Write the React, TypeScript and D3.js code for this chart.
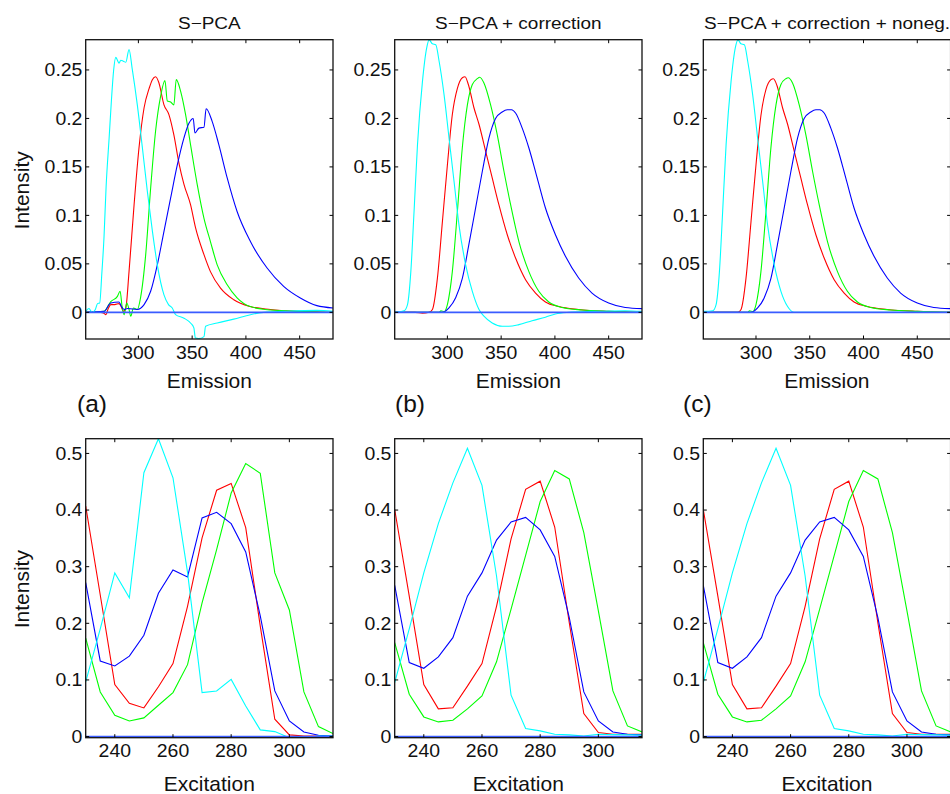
import React from 'react';
import * as d3 from 'd3';

// ---------- data ----------
const titles = ['S\u2212PCA', 'S\u2212PCA + correction', 'S\u2212PCA + correction + noneg.'];
const panelLabels = ['(a)', '(b)', '(c)'];
const seriesColors = ['#ff0000', '#00ff00', '#0000ff', '#00ffff']; // red, green, blue, cyan

const emissionXTicks = [300, 350, 400, 450];
const emissionYTicks = [0, 0.05, 0.1, 0.15, 0.2, 0.25];
const excitationXTicks = [240, 260, 280, 300];
const excitationYTicks = [0, 0.1, 0.2, 0.3, 0.4, 0.5];

// Emission spectra, panel (a): [wavelength, intensity]
const emARed: [number, number][] = [[251,0],[265,0],[268,-0.001],[269.7,-0.0024],[272,0.004],[274.3,0.008],[278,0.008],[282,0.009],[284,0.006],[286,0.001],[288.3,0.0045],[291.3,0.042],[296,0.111],[300.6,0.17],[305.3,0.211],[310,0.231],[313,0.24],[316,0.243],[319,0.237],[323.8,0.214],[328.4,0.204],[333,0.183],[337.7,0.154],[342.4,0.132],[348.5,0.111],[353.2,0.087],[361,0.0595],[367,0.042],[376.4,0.025],[388.7,0.013],[404,0.006],[422.8,0.003],[450.6,0.001],[481,0]];
const emAGreen: [number, number][] = [[251,0],[268,0.001],[274.3,0.011],[280.5,0.0165],[283,0.0217],[285,0.0045],[286.7,-0.0024],[289.2,0.0096],[291.3,0.003],[292.9,-0.004],[295.4,0.0045],[299,0.003],[302,0.015],[306.8,0.0595],[311.4,0.128],[316,0.187],[320.7,0.223],[324.7,0.239],[326.9,0.218],[330,0.217],[333,0.214],[335.2,0.24],[339.3,0.228],[343.9,0.204],[348.5,0.173],[354.7,0.132],[361,0.097],[367,0.073],[373.3,0.049],[382.6,0.0285],[391.8,0.015],[404,0.006],[422.8,0.0024],[450.6,0.001],[481,0]];
const emABlue: [number, number][] = [[251,0],[268,0.001],[274.3,0.0096],[282,0.0107],[284.2,0.006],[286.7,0.003],[290,0.004],[299,0.003],[305.3,0.008],[311.4,0.0217],[317.6,0.049],[323.8,0.0836],[330,0.118],[336.2,0.152],[342.4,0.18],[347,0.195],[351,0.2],[352.6,0.185],[356.3,0.19],[361,0.191],[363,0.21],[368.6,0.197],[374.8,0.173],[382.6,0.1386],[391.8,0.104],[404.2,0.073],[419.7,0.0457],[435.1,0.0268],[450.6,0.0148],[466,0.0069],[481,0.0045]];
const emACyan: [number, number][] = [[251,0.001],[254,0.004],[257,0],[260,0.003],[262,0.009],[264,0.0096],[266,0.04],[268,0.077],[270,0.13],[272.8,0.18],[275,0.22],[277,0.25],[279,0.263],[280.5,0.26],[282,0.257],[283.6,0.26],[286,0.259],[288.3,0.258],[291.3,0.271],[294.4,0.25],[299,0.214],[303.7,0.17],[308.3,0.125],[313,0.084],[317.6,0.049],[323.8,0.018],[328,0.008],[331.5,0.0045],[334.6,-0.0024],[342.4,-0.006],[348.5,-0.011],[351.6,-0.016],[353,-0.0265],[356,-0.027],[361,-0.025],[362.5,-0.0144],[373.3,-0.011],[388.7,-0.007],[404.2,-0.0024],[416.6,0],[435,0.001],[466,0.002],[481,0.001]];

// Emission spectra, panel (b)
const emBRed: [number, number][] = [[251,0],[270,0],[276.8,-0.001],[283,0],[286.1,0.003],[290.7,0.035],[295.4,0.094],[300,0.152],[304.6,0.204],[309.3,0.231],[313.9,0.242],[316.4,0.243],[319.5,0.235],[324.7,0.211],[329.4,0.194],[335.6,0.166],[341.7,0.1386],[347.9,0.111],[355.7,0.08],[363.4,0.056],[372.7,0.0337],[382,0.0199],[391.2,0.0107],[403.6,0.006],[422,0.003],[450,0.001],[481,0]];
const emBGreen: [number, number][] = [[251,0],[292.3,0],[294,0.0015],[297,0.0007],[300,0.008],[304.6,0.042],[309.3,0.104],[313.9,0.17],[318.6,0.214],[323.2,0.235],[327.8,0.241],[330,0.2425],[334,0.2366],[340.2,0.214],[346.4,0.183],[352.6,0.1455],[358.8,0.111],[366.5,0.073],[375.8,0.042],[385,0.0217],[394.3,0.0107],[406.7,0.005],[425.2,0.0024],[450,0.001],[481,0]];
const emBBlue: [number, number][] = [[251,0],[295.4,0],[301.5,0.0045],[307.7,0.015],[313.9,0.035],[320,0.07],[326.3,0.108],[332.5,0.1455],[338.7,0.18],[344.8,0.2],[351,0.2067],[355.7,0.209],[359.7,0.209],[363.4,0.2056],[369.6,0.19],[375.8,0.1695],[383.5,0.1386],[391.2,0.1076],[400.5,0.08],[409.8,0.0578],[422.1,0.0354],[434.5,0.0199],[450,0.0096],[465.4,0.005],[481,0.0038]];
const emBCyan: [number, number][] = [[251,0],[259.8,0.0017],[262.9,0.008],[266,0.042],[269,0.104],[272.2,0.173],[276.8,0.238],[280.8,0.273],[283,0.281],[286,0.277],[289.2,0.276],[292.3,0.259],[296.9,0.2245],[301.5,0.18],[306.2,0.135],[310.8,0.09],[317,0.049],[323.2,0.0217],[329.4,0.003],[334,-0.004],[341.7,-0.011],[351,-0.0144],[357.2,-0.0144],[366.5,-0.0127],[378.8,-0.0086],[391.2,-0.005],[400.5,-0.0017],[412.9,0],[434.5,0.001],[465.4,0.0017],[481,0.001]];

// Emission spectra, panel (c)
const emCRed: [number, number][] = [[251,0],[270,0],[283,0],[286.1,0.003],[290.7,0.035],[295.4,0.094],[300,0.152],[304.6,0.203],[309.3,0.23],[313.9,0.24],[316.2,0.241],[319.5,0.234],[324.7,0.211],[329.4,0.194],[335.6,0.166],[341.7,0.1386],[347.9,0.111],[355.7,0.08],[363.4,0.056],[372.7,0.0337],[382,0.0199],[391.2,0.0107],[403.6,0.006],[422,0.003],[450,0.001],[481,0]];
const emCGreen: [number, number][] = [[251,0],[292.3,0],[294,0.0015],[297,0.0007],[300,0.008],[304.6,0.042],[309.3,0.104],[313.9,0.17],[318.6,0.214],[323.2,0.235],[327.8,0.241],[330,0.242],[334,0.2366],[340.2,0.214],[346.4,0.183],[352.6,0.1455],[358.8,0.111],[366.5,0.073],[375.8,0.042],[385,0.0217],[394.3,0.0107],[406.7,0.005],[425.2,0.0024],[450,0.001],[481,0]];
const emCBlue: [number, number][] = [[251,0],[295.4,0],[301.5,0.0045],[307.7,0.015],[313.9,0.035],[320,0.07],[326.3,0.108],[332.5,0.1455],[338.7,0.18],[344.8,0.2],[351,0.2067],[355.7,0.209],[359.4,0.209],[363.4,0.2056],[369.6,0.19],[375.8,0.1695],[383.5,0.1386],[391.2,0.1076],[400.5,0.08],[409.8,0.0578],[422.1,0.0354],[434.5,0.0199],[450,0.0096],[465.4,0.005],[481,0.0038]];
const emCCyan: [number, number][] = [[251,0.001],[259.8,0.0017],[262.9,0.008],[266,0.042],[269,0.104],[272.2,0.173],[276.8,0.238],[280.8,0.273],[283.3,0.281],[286,0.277],[289.2,0.276],[292.3,0.259],[296.9,0.2245],[301.5,0.18],[306.2,0.135],[310.8,0.09],[317,0.049],[323.2,0.0217],[329.4,0.006],[335.6,0],[481,0]];

// Excitation spectra (shared wavelengths)
const excitationNm = [230,235,240,245,250,255,260,265,270,275,280,285,290,295,300,305,310,315];
const exARed   = [0.407,0.25,0.092,0.0588,0.0506,0.088,0.129,0.23,0.351,0.435,0.447,0.369,0.195,0.0306,0.003,0.001,0.001,0.001];
const exAGreen = [0.174,0.0788,0.0376,0.0276,0.033,0.0553,0.0776,0.127,0.236,0.33,0.43,0.482,0.465,0.289,0.2235,0.0788,0.0176,0.0053];
const exABlue  = [0.272,0.1335,0.1247,0.142,0.179,0.253,0.294,0.282,0.386,0.396,0.376,0.326,0.213,0.0806,0.0276,0.0082,0.0024,0.001];
const exACyan  = [0.0965,0.19,0.289,0.245,0.466,0.526,0.457,0.29,0.0776,0.0806,0.101,0.054,0.0118,0.0088,-0.002,-0.002,0.001,0.001];

const exBRed   = [0.401,0.248,0.092,0.049,0.051,0.089,0.129,0.23,0.349,0.4365,0.451,0.37,0.201,0.0406,0.007,0.004,0.004,0.004];
const exBGreen = [0.166,0.0747,0.0347,0.0259,0.0288,0.049,0.0718,0.132,0.225,0.32,0.415,0.47,0.455,0.36,0.222,0.0806,0.0188,0.0082];
const exBBlue  = [0.267,0.1306,0.1206,0.1406,0.1747,0.248,0.289,0.347,0.379,0.387,0.365,0.318,0.21,0.0788,0.0276,0.0082,0.004,0.003];
const exBCyan  = [0.0953,0.19,0.289,0.376,0.448,0.509,0.4435,0.2835,0.073,0.0141,0.01,0.004,0.003,0.001,0.004,0.0035,0.003,0.0025];

const exCRed   = [0.401,0.248,0.092,0.049,0.051,0.089,0.129,0.23,0.349,0.4365,0.451,0.37,0.201,0.0406,0.007,0.004,0.004,0.004];
const exCGreen = [0.166,0.0747,0.0347,0.0259,0.0288,0.049,0.0718,0.132,0.225,0.32,0.415,0.47,0.455,0.36,0.222,0.0806,0.0188,0.0082];
const exCBlue  = [0.267,0.1306,0.1206,0.1406,0.1747,0.248,0.289,0.347,0.379,0.387,0.365,0.318,0.21,0.0788,0.0276,0.0082,0.004,0.003];
const exCCyan  = [0.0953,0.19,0.289,0.376,0.448,0.509,0.4435,0.2835,0.073,0.0141,0.01,0.004,0.003,0.001,0.004,0.0035,0.003,0.0025];

const emissionSets = [
  [emARed, emAGreen, emABlue, emACyan],
  [emBRed, emBGreen, emBBlue, emBCyan],
  [emCRed, emCGreen, emCBlue, emCCyan],
];
const excitationSets = [
  [exARed, exAGreen, exABlue, exACyan],
  [exBRed, exBGreen, exBBlue, exBCyan],
  [exCRed, exCGreen, exCBlue, exCCyan],
];

// ---------- layout ----------
const W = 950;
const H = 794;
const colLeft = [85.7, 394.7, 703.3];
const plotW = 247.3;
const topY0 = 39.7, topY1 = 339;
const botY0 = 438.7, botY1 = 737.7;
const FONT = "'Liberation Sans', Arial, Helvetica, sans-serif";
const zeroColor = '#3a5cff';
const TICK_FS = 18;
const TICK_SX = 1.08;

type PanelProps = {
  x0: number;
  y0: number;
  y1: number;
  xDomain: [number, number];
  yDomain: [number, number];
  xTicks: number[];
  yTicks: number[];
  lines: [number, number][][];
  curve: d3.CurveFactory;
  xLabel: string;
  xLabelOffset: number;
  showYLabel: boolean;
  id: string;
};

function Panel(p: PanelProps) {
  const x = d3.scaleLinear().domain(p.xDomain).range([p.x0, p.x0 + plotW]);
  const y = d3.scaleLinear().domain(p.yDomain).range([p.y1, p.y0]);
  const line = d3.line<[number, number]>().x(d => x(d[0])).y(d => y(d[1])).curve(p.curve);
  const tl = 3.5;
  const yFmt = (v: number) => (v === 0 ? '0' : String(v));
  const cx = p.x0 + plotW / 2;
  return (
    <g>
      <defs>
        <clipPath id={p.id}>
          <rect x={p.x0} y={p.y0} width={plotW} height={p.y1 - p.y0} />
        </clipPath>
      </defs>
      <g clipPath={`url(#${p.id})`}>
        {p.lines.map((d, i) => (
          <path key={i} d={line(d) || ''} fill="none" stroke={seriesColors[i]} strokeWidth={1.1} />
        ))}
        <line x1={p.x0} x2={p.x0 + plotW} y1={y(0)} y2={y(0)} stroke={zeroColor} strokeWidth={1.8} />
      </g>
      {p.xTicks.map(t => (
        <g key={'xt' + t}>
          <line x1={x(t)} x2={x(t)} y1={p.y1} y2={p.y1 - tl} stroke="#000" strokeWidth={1} />
          <line x1={x(t)} x2={x(t)} y1={p.y0} y2={p.y0 + tl} stroke="#000" strokeWidth={1} />
          <text transform={`translate(${x(t)},${p.y1 + 19.5}) scale(${TICK_SX},1)`} textAnchor="middle" fontSize={TICK_FS} fontFamily={FONT} fill="#111">{t}</text>
        </g>
      ))}
      {p.yTicks.map(t => (
        <g key={'yt' + t}>
          <line x1={p.x0} x2={p.x0 + tl} y1={y(t)} y2={y(t)} stroke="#000" strokeWidth={1} />
          <line x1={p.x0 + plotW} x2={p.x0 + plotW - tl} y1={y(t)} y2={y(t)} stroke="#000" strokeWidth={1} />
          <text transform={`translate(${p.x0 - 3.3},${y(t) + 6.4}) scale(${TICK_SX},1)`} textAnchor="end" fontSize={TICK_FS} fontFamily={FONT} fill="#111">{yFmt(t)}</text>
        </g>
      ))}
      <rect x={p.x0} y={p.y0} width={plotW} height={p.y1 - p.y0} fill="none" stroke="#111" strokeWidth={1.3} />
      <text x={cx} y={p.y1 + p.xLabelOffset} textAnchor="middle" fontSize={21} fontFamily={FONT} fill="#111">{p.xLabel}</text>
      {p.showYLabel && (
        <text transform={`translate(28.5,${(p.y0 + p.y1) / 2 + 1}) rotate(-90)`} textAnchor="middle" fontSize={21} fontFamily={FONT} fill="#111">Intensity</text>
      )}
    </g>
  );
}

const labelX = [77, 395, 683];

export default function App() {
  return (
    <svg width={W} height={H} style={{ position: 'absolute', left: 0, top: 0, background: '#fff' }}>
      <rect x={0} y={0} width={W} height={H} fill="#fff" />
      {colLeft.map((x0, i) => (
        <g key={'t' + i}>
          <text transform={`translate(${x0 + plotW / 2},29.3) scale(1.15,1)`} textAnchor="middle" fontSize={16.5} fontFamily={FONT} fill="#111">{titles[i]}</text>
          <Panel
            id={'clipTop' + i}
            x0={x0}
            y0={topY0}
            y1={topY1}
            xDomain={[251, 481]}
            yDomain={[-0.0275, 0.2812]}
            xTicks={emissionXTicks}
            yTicks={emissionYTicks}
            lines={emissionSets[i]}
            curve={d3.curveMonotoneX}
            xLabel="Emission"
            xLabelOffset={49.3}
            showYLabel={i === 0}
          />
          <text x={labelX[i]} y={411.5} fontSize={24.5} fontFamily={FONT} fill="#111">{panelLabels[i]}</text>
          <Panel
            id={'clipBot' + i}
            x0={x0}
            y0={botY0}
            y1={botY1}
            xDomain={[230, 315]}
            yDomain={[-0.002, 0.526]}
            xTicks={excitationXTicks}
            yTicks={excitationYTicks}
            lines={excitationSets[i].map(arr => arr.map((v, k) => [excitationNm[k], v] as [number, number]))}
            curve={d3.curveLinear}
            xLabel="Excitation"
            xLabelOffset={53}
            showYLabel={i === 0}
          />
        </g>
      ))}
    </svg>
  );
}
